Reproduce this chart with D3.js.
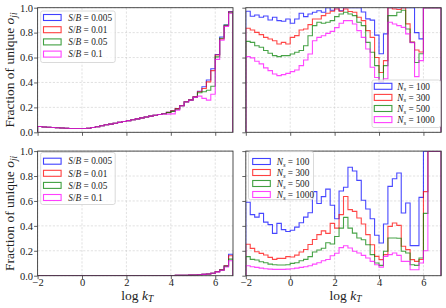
<!DOCTYPE html>
<html><head><meta charset="utf-8">
<script src="https://cdn.jsdelivr.net/npm/d3@7"></script>
<style>body{margin:0;background:#fff}</style>
</head><body><svg id="c" width="446" height="308"></svg>
<script>
// ---------------- data ----------------
const binEdges = [-2.0,-1.8,-1.6,-1.4,-1.2,-1.0,-0.8,-0.6,-0.4,-0.2,0.0,0.2,0.4,0.6,0.8,1.0,1.2,1.4,1.6,1.8,2.0,2.2,2.4,2.6,2.8,3.0,3.2,3.4,3.6,3.8,4.0,4.2,4.4,4.6,4.8,5.0,5.2,5.4,5.6,5.8,6.0,6.2,6.4,6.6,6.8];
const xTicks = [-2, 0, 2, 4, 6];
const yTicks = [0, 0.2, 0.4, 0.6, 0.8, 1.0];
const sbLabels = ["0.005", "0.01", "0.05", "0.1"];
const nsLabels = ["100", "300", "500", "1000"];

// top-left: S/B series
const topLeft_SB0005 = [0.046,0.043,0.040,0.038,0.036,0.034,0.032,0.031,0.030,0.030,0.030,0.033,0.038,0.045,0.052,0.060,0.066,0.073,0.080,0.087,0.094,0.101,0.108,0.116,0.123,0.130,0.137,0.143,0.150,0.160,0.172,0.190,0.215,0.245,0.260,0.285,0.330,0.365,0.420,0.510,0.625,0.765,0.860,0.970];
const topLeft_SB001  = [0.046,0.043,0.040,0.038,0.036,0.034,0.032,0.031,0.030,0.030,0.030,0.033,0.038,0.045,0.052,0.060,0.066,0.073,0.080,0.087,0.094,0.101,0.108,0.116,0.123,0.130,0.137,0.143,0.150,0.160,0.172,0.190,0.215,0.245,0.260,0.285,0.325,0.352,0.405,0.495,0.620,0.750,0.855,0.965];
const topLeft_SB005  = [0.046,0.043,0.040,0.038,0.036,0.034,0.032,0.031,0.030,0.030,0.030,0.033,0.038,0.045,0.052,0.060,0.066,0.073,0.080,0.087,0.094,0.101,0.108,0.116,0.123,0.130,0.137,0.143,0.150,0.158,0.168,0.185,0.212,0.243,0.258,0.280,0.318,0.325,0.338,0.370,0.605,0.755,0.860,0.960];
const topLeft_SB01   = [0.046,0.043,0.040,0.038,0.036,0.034,0.032,0.031,0.030,0.030,0.030,0.033,0.038,0.045,0.052,0.060,0.066,0.073,0.080,0.087,0.094,0.101,0.108,0.116,0.123,0.130,0.137,0.143,0.148,0.146,0.148,0.178,0.212,0.243,0.258,0.280,0.290,0.272,0.258,0.305,0.585,0.740,0.850,0.955];

// top-right: N_s series
const topRight_N100  = [0.971,0.931,0.942,0.923,0.933,0.901,0.923,0.896,0.891,0.909,0.875,0.909,0.955,0.928,0.950,0.963,0.976,0.963,1.000,0.980,1.000,0.975,1.000,1.000,1.000,1.000,0.965,0.910,0.900,0.780,0.630,0.790,1.000,1.000,1.000,1.000,1.000,1.000,0.800,0.750,1.000,1.000,1.000,1.000];
const topRight_N300  = [0.835,0.821,0.802,0.784,0.762,0.749,0.735,0.709,0.722,0.709,0.762,0.776,0.821,0.829,0.864,0.909,0.909,0.936,0.955,0.971,0.990,0.971,0.990,0.970,0.963,0.923,0.896,0.816,0.762,0.600,0.480,0.575,1.000,0.990,0.985,1.000,0.870,0.725,0.660,0.645,1.000,1.000,1.000,1.000];
const topRight_N500  = [0.730,0.722,0.695,0.682,0.656,0.634,0.615,0.607,0.615,0.615,0.628,0.642,0.656,0.695,0.775,0.856,0.883,0.875,0.883,0.896,0.928,0.950,0.963,0.950,0.936,0.883,0.856,0.722,0.642,0.535,0.405,0.535,0.936,0.936,0.963,0.980,0.829,0.722,0.560,0.630,1.000,1.000,1.000,1.000];
const topRight_N1000 = [0.607,0.597,0.570,0.549,0.517,0.495,0.468,0.455,0.463,0.473,0.487,0.500,0.535,0.580,0.628,0.735,0.762,0.775,0.794,0.810,0.840,0.875,0.896,0.896,0.869,0.816,0.762,0.669,0.522,0.440,0.410,0.430,0.883,0.869,0.856,0.842,0.790,0.720,0.447,0.575,1.000,1.000,1.000,1.000];

// bottom-left: S/B series
const bottomLeft_SB0005 = [0,0,0,0,0,0,0,0,0,0,0,0,0,0,0,0,0,0,0,0,0,0,0,0,0,0,0,0,0.001,0.002,0.002,0.003,0.003,0.004,0.005,0.006,0.008,0.011,0.014,0.020,0.033,0.047,0.080,0.172];
const bottomLeft_SB001  = [0,0,0,0,0,0,0,0,0,0,0,0,0,0,0,0,0,0,0,0,0,0,0,0,0,0,0,0,0.001,0.002,0.002,0.003,0.003,0.004,0.005,0.006,0.008,0.011,0.014,0.020,0.033,0.047,0.080,0.160];
const bottomLeft_SB005  = [0,0,0,0,0,0,0,0,0,0,0,0,0,0,0,0,0,0,0,0,0,0,0,0,0,0,0,0,0.001,0.002,0.002,0.003,0.003,0.004,0.005,0.006,0.008,0.011,0.014,0.020,0.032,0.046,0.075,0.133];
const bottomLeft_SB01   = [0,0,0,0,0,0,0,0,0,0,0,0,0,0,0,0,0,0,0,0,0,0,0,0,0,0,0,0,0.001,0.002,0.002,0.003,0.003,0.004,0.005,0.006,0.008,0.011,0.014,0.020,0.031,0.044,0.070,0.120];

// bottom-right: N_s series
const bottomRight_N100  = [0.590,0.490,0.470,0.500,0.430,0.410,0.340,0.420,0.370,0.355,0.365,0.390,0.425,0.470,0.505,0.675,0.580,0.635,0.695,0.565,0.457,0.680,0.710,0.870,0.840,0.765,0.605,0.535,0.457,0.325,0.262,0.415,0.717,0.778,0.824,0.503,0.583,0.241,0.241,0.629,1.000,1.000,1.000,1.000];
const bottomRight_N300  = [0.252,0.219,0.192,0.179,0.166,0.147,0.131,0.139,0.139,0.153,0.150,0.165,0.190,0.210,0.250,0.290,0.330,0.360,0.340,0.420,0.382,0.490,0.636,0.530,0.516,0.463,0.415,0.330,0.249,0.155,0.129,0.169,0.396,0.423,0.404,0.236,0.209,0.129,0.115,0.130,0.675,1.000,1.000,1.000];
const bottomRight_N500  = [0.153,0.131,0.126,0.112,0.104,0.093,0.088,0.086,0.086,0.088,0.099,0.104,0.120,0.131,0.153,0.190,0.206,0.220,0.265,0.255,0.315,0.382,0.468,0.382,0.342,0.302,0.289,0.249,0.169,0.102,0.083,0.196,0.302,0.302,0.300,0.196,0.182,0.088,0.083,0.142,0.500,1.000,1.000,1.000];
const bottomRight_N1000 = [0.080,0.072,0.067,0.061,0.056,0.053,0.051,0.051,0.051,0.053,0.056,0.061,0.067,0.072,0.080,0.093,0.104,0.120,0.130,0.160,0.180,0.225,0.240,0.222,0.196,0.182,0.163,0.142,0.115,0.088,0.069,0.155,0.169,0.182,0.163,0.115,0.115,0.048,0.048,0.102,0.200,1.000,1.000,1.000];

// ---------------- drawing ----------------
const colors = ["#0000ff", "#ff0000", "#008000", "#ff00ff"];
const FONT = "'Liberation Serif','DejaVu Serif',serif";
const svg = d3.select("#c");
const W = 195.4, H = 124.6;

const panels = [
  {x0: 37.6, y0: 7.7, series: [topLeft_SB0005, topLeft_SB001, topLeft_SB005, topLeft_SB01], xl: false, yl: true},
  {x0: 245.8, y0: 7.7, series: [topRight_N100, topRight_N300, topRight_N500, topRight_N1000], xl: false, yl: false},
  {x0: 37.6, y0: 151.1, series: [bottomLeft_SB0005, bottomLeft_SB001, bottomLeft_SB005, bottomLeft_SB01], xl: true, yl: true},
  {x0: 245.8, y0: 151.1, series: [bottomRight_N100, bottomRight_N300, bottomRight_N500, bottomRight_N1000], xl: true, yl: false}
];

panels.forEach((p, pi) => {
  const x = d3.scaleLinear().domain([binEdges[0], binEdges[binEdges.length - 1]]).range([p.x0, p.x0 + W]);
  const y = d3.scaleLinear().domain([0, 1]).range([p.y0 + H, p.y0]);
  const g = svg.append("g");

  // grid
  g.selectAll(".gx").data(xTicks).join("line")
    .attr("x1", d => x(d)).attr("x2", d => x(d)).attr("y1", p.y0).attr("y2", p.y0 + H)
    .attr("stroke", "#cccccc").attr("stroke-width", 0.6).attr("stroke-dasharray", "2.2,1.6");
  g.selectAll(".gy").data(yTicks).join("line")
    .attr("y1", d => y(d)).attr("y2", d => y(d)).attr("x1", p.x0).attr("x2", p.x0 + W)
    .attr("stroke", "#cccccc").attr("stroke-width", 0.6).attr("stroke-dasharray", "2.2,1.6");

  // clip
  const cid = "clip" + pi;
  svg.append("clipPath").attr("id", cid).append("rect")
    .attr("x", p.x0).attr("y", p.y0).attr("width", W).attr("height", H);
  const lg = g.append("g").attr("clip-path", `url(#${cid})`);
  const line = d3.line().x(d => x(d[0])).y(d => y(d[1]));
  p.series.forEach((vals, si) => {
    const pts = [[binEdges[0], 0]];
    vals.forEach((v, i) => { pts.push([binEdges[i], v]); pts.push([binEdges[i + 1], v]); });
    pts.push([binEdges[binEdges.length - 1], 0]);
    lg.append("path").attr("d", line(pts)).attr("fill", "none")
      .attr("stroke", colors[si]).attr("stroke-width", 1.1).attr("stroke-opacity", 0.72);
  });

  // spines
  g.append("rect").attr("x", p.x0).attr("y", p.y0).attr("width", W).attr("height", H)
    .attr("fill", "none").attr("stroke", "#3a3a3a").attr("stroke-width", 0.9);

  // axes
  const ax = g.append("g").attr("transform", `translate(0,${p.y0 + H})`)
    .call(d3.axisBottom(x).tickValues(xTicks).tickSize(3.5).tickFormat(p.xl ? d3.format("d") : ""));
  const ay = g.append("g").attr("transform", `translate(${p.x0},0)`)
    .call(d3.axisLeft(y).tickValues(yTicks).tickSize(3.5).tickPadding(1).tickFormat(p.yl ? d3.format(".1f") : ""));
  [ax, ay].forEach(a => {
    a.select(".domain").remove();
    a.selectAll(".tick line").attr("stroke", "#3a3a3a").attr("stroke-width", 0.8);
    a.selectAll(".tick text").attr("font-family", FONT).attr("font-size", 10.5).attr("fill", "#222");
  });
  ax.selectAll(".tick text").attr("y", 3.2);
});

// axis labels
function yLabel(cy) {
  const t = svg.append("text").attr("transform", `translate(14,${cy}) rotate(-90)`)
    .attr("text-anchor", "middle").attr("font-family", FONT).attr("font-size", 13.5).attr("fill", "#222");
  t.append("tspan").text("Fraction of unique ");
  t.append("tspan").attr("font-style", "italic").text("o");
  t.append("tspan").attr("font-style", "italic").attr("font-size", 9.5).attr("dy", 2.5).text("ji");
}
yLabel(7.7 + H / 2);
yLabel(151.1 + H / 2);

function xLabel(cx) {
  const t = svg.append("text").attr("x", cx).attr("y", 299.5)
    .attr("text-anchor", "middle").attr("font-family", FONT).attr("font-size", 13.5).attr("fill", "#222");
  t.append("tspan").text("log ");
  t.append("tspan").attr("font-style", "italic").text("k");
  t.append("tspan").attr("font-style", "italic").attr("font-size", 9.5).attr("dy", 2.4).text("T");
}
xLabel(37.6 + W / 2 + 2);
xLabel(245.8 + W / 2 + 2);

// legends
function legend(fx, fy, fw, fh, hx, tx, yc0, dy, labels, kind) {
  const g = svg.append("g");
  g.append("rect").attr("x", fx).attr("y", fy).attr("width", fw).attr("height", fh).attr("rx", 2)
    .attr("fill", "#fff").attr("fill-opacity", 0.8).attr("stroke", "#d0d0d0").attr("stroke-width", 0.8);
  labels.forEach((lab, i) => {
    const yc = yc0 + dy * i;
    g.append("rect").attr("x", hx).attr("y", yc - 3).attr("width", 17.6).attr("height", 6)
      .attr("fill", "none").attr("stroke", colors[i]).attr("stroke-width", 1.1).attr("stroke-opacity", 0.75);
    const t = g.append("text").attr("x", tx).attr("y", yc + 3.2)
      .attr("font-family", FONT).attr("font-size", 9.3).attr("fill", "#222");
    if (kind === "sb") {
      t.append("tspan").attr("font-style", "italic").text("S");
      t.append("tspan").text("/");
      t.append("tspan").attr("font-style", "italic").text("B");
      t.append("tspan").text(" = " + lab);
    } else {
      t.append("tspan").attr("font-style", "italic").text("N");
      t.append("tspan").attr("font-style", "italic").attr("font-size", 6.8).attr("dy", 1.8).text("s");
      t.append("tspan").attr("dy", -1.8).text(" = " + lab);
    }
  });
}
legend(40.7, 11, 74.5, 51.5, 43.5, 68.3, 17.5, 12.2, sbLabels, "sb");
legend(40.7, 152.5, 74.5, 52, 43.5, 68.3, 161.2, 12.1, sbLabels, "sb");
legend(372, 80, 68.5, 47.5, 374.3, 397.3, 86.3, 11.1, nsLabels, "ns");
legend(248.5, 151.6, 65, 48, 252.7, 276.7, 161.5, 11.0, nsLabels, "ns");
</script>
</body></html>
